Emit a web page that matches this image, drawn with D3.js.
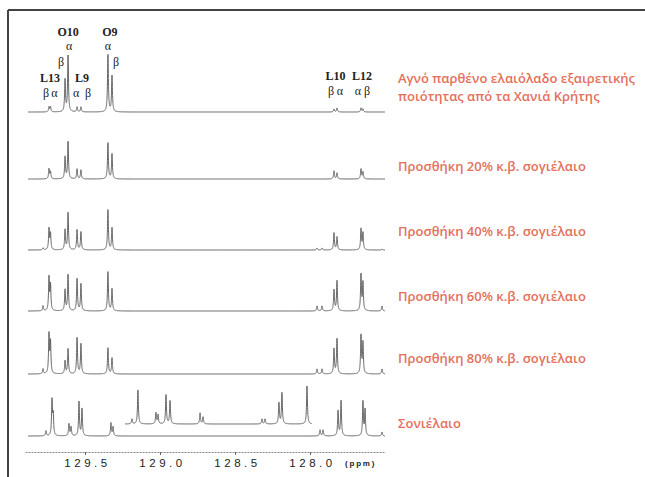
<!DOCTYPE html>
<html>
<head>
<meta charset="utf-8">
<script src="https://cdn.jsdelivr.net/npm/d3@7"></script>
<style>
  body { margin: 0; background: #fff; }
  svg { display: block; }
</style>
</head>
<body>
<svg id="chart" width="645" height="477"></svg>
<script>
// peak positions (ppm) shared by the olive oil and blend spectra
const blendPpm = [129.78, 129.74, 129.73, 129.633, 129.613, 129.553, 129.527, 129.347, 129.32, 127.953, 127.92, 127.84, 127.82, 127.66, 127.647, 127.52]
// peak intensities for each spectrum (same order as blendPpm)
const pureOil = [0, 5, 5, 32, 56, 5, 5, 57, 36, 0, 0, 3, 4, 4, 3, 0]
const blend20 = [0, 10, 7, 22, 37, 10, 9, 36, 25, 0, 0, 8, 6, 10, 7, 0]
const blend40 = [2, 21, 16, 20, 37, 20, 18, 40, 22, 2, 2, 17, 13, 21, 17, 1]
const blend60 = [5, 33, 25, 21, 36, 32, 27, 39, 22, 5, 5, 21, 30, 36, 28, 5]
const blend80 = [5, 39, 31, 13, 25, 36, 30, 26, 16, 5, 5, 25, 35, 38, 31, 5]

// sunflower oil spectrum
const sunPpm = [129.76, 129.72, 129.712, 129.607, 129.593, 129.54, 129.52, 129.327, 129.313, 127.933, 127.913, 127.813, 127.793, 127.647, 127.633, 127.52]
const sunInt = [5, 35, 20, 12, 9, 34, 27, 13, 9, 6, 6, 25, 35, 34, 26, 4]
// expanded region drawn above the sunflower trace
const insetRange = [129.233, 127.987]
const insetPpm = [129.187, 129.147, 129.027, 129.013, 128.96, 128.933, 128.733, 128.713, 128.32, 128.30, 128.207, 128.187, 128.02]
const insetInt = [5, 34, 11, 9, 29, 23, 11, 7, 5, 5, 21, 31, 38]

const labels = [
  ["Αγνό παρθένο ελαιόλαδο εξαιρετικής", "ποιότητας από τα Χανιά Κρήτης"],
  ["Προσθήκη 20% κ.β. σογιέλαιο"],
  ["Προσθήκη 40% κ.β. σογιέλαιο"],
  ["Προσθήκη 60% κ.β. σογιέλαιο"],
  ["Προσθήκη 80% κ.β. σογιέλαιο"],
  ["Σονιέλαιο"]
]
const tickPpm = [129.5, 129.0, 128.5, 128.0]

const svg = d3.select('#chart')

// frame
svg.append('line').attr('x1', 8).attr('x2', 645).attr('y1', 10).attr('y2', 10)
  .attr('stroke', '#444').attr('stroke-width', 2)
svg.append('line').attr('x1', 8).attr('x2', 8).attr('y1', 10).attr('y2', 477)
  .attr('stroke', '#444').attr('stroke-width', 2)

const x = d3.scaleLinear().domain([129.9, 127.5]).range([25, 385])
const y = d3.scaleLinear().domain([0, 60]).range([0, -60])

// lorentzian line shape
const hw = 0.0035
function shape(ppms, ints, lo, hi) {
  const pts = []
  for (let p = lo; p >= hi; p -= 0.0005) {
    let s = 0
    for (let i = 0; i < ppms.length; i++) {
      const u = (p - ppms[i]) / hw
      s += ints[i] / (1 + u * u)
    }
    pts.push([p, s])
  }
  return pts
}

const line = d3.line().x(d => x(d[0])).y(d => y(d[1]))

const spectra = [pureOil, blend20, blend40, blend60, blend80]
const baselines = [112, 179, 250, 311, 374, 436]
const labelY = [83, 171, 236, 301, 363, 428]

spectra.forEach((ints, i) => {
  svg.append('path')
    .attr('d', line(shape(blendPpm, ints, 129.88, 127.5)))
    .attr('transform', `translate(0,${baselines[i]})`)
    .attr('fill', 'none')
    .attr('stroke', '#555')
    .attr('stroke-width', 0.9)
})

svg.append('path')
  .attr('d', line(shape(sunPpm, sunInt, 129.88, 127.5)))
  .attr('transform', `translate(0,${baselines[5]})`)
  .attr('fill', 'none').attr('stroke', '#555').attr('stroke-width', 0.9)

svg.append('path')
  .attr('d', line(shape(insetPpm, insetInt, insetRange[0], insetRange[1])))
  .attr('transform', `translate(0,${baselines[5] - 12})`)
  .attr('fill', 'none').attr('stroke', '#555').attr('stroke-width', 0.9)

// labels for each spectrum
labels.forEach((lines, i) => {
  const t = svg.append('text')
    .attr('x', 398).attr('y', labelY[i])
    .attr('fill', '#e4705c')
    .style('font-family', '"Open Sans", sans-serif')
    .style('font-weight', 600)
    .style('font-size', '13px')
  lines.forEach((s, j) => {
    t.append('tspan').attr('x', 398).attr('dy', j === 0 ? 0 : 18).text(s)
  })
})

// axis
const xaxis = d3.axisBottom(x)
  .tickValues(tickPpm)
  .tickFormat(d3.format('.1f'))
  .tickSize(3)
  .tickSizeOuter(0)
  .tickPadding(4)
const ax = svg.append('g')
  .attr('transform', 'translate(0,452)')
  .call(xaxis)
ax.select('.domain').attr('stroke', '#888').attr('stroke-dasharray', '2,1')
ax.selectAll('.tick line').attr('stroke', '#666')
ax.selectAll('.tick text')
  .attr('fill', '#222')
  .attr('dx', '2px')
  .style('font-family', '"Liberation Sans", sans-serif')
  .style('font-size', '11.5px')
  .style('letter-spacing', '3.5px')
svg.append('text')
  .attr('x', 345).attr('y', 466)
  .attr('fill', '#222')
  .style('font-family', '"Liberation Sans", sans-serif')
  .style('font-size', '8px')
  .style('font-weight', 700)
  .style('letter-spacing', '1.8px')
  .text('(ppm)')

// peak assignments on the top spectrum
const serif = '"Liberation Serif", serif'
const notes = [
  { t: 'O10', p: 129.613, dx: 0, y: 36, bold: true },
  { t: 'α', p: 129.613, dx: 1, y: 50 },
  { t: 'β', p: 129.633, dx: -4, y: 66 },
  { t: 'O9', p: 129.347, dx: 2, y: 36, bold: true },
  { t: 'α', p: 129.347, dx: 0, y: 50 },
  { t: 'β', p: 129.32, dx: 4, y: 66 },
  { t: 'L13', p: 129.733, dx: 0, y: 82, bold: true },
  { t: 'β', p: 129.74, dx: -3, y: 97 },
  { t: 'α', p: 129.73, dx: 4, y: 97 },
  { t: 'L9', p: 129.54, dx: 3, y: 82, bold: true },
  { t: 'α', p: 129.553, dx: -1, y: 97 },
  { t: 'β', p: 129.527, dx: 7, y: 97 },
  { t: 'L10', p: 127.83, dx: 0, y: 80, bold: true },
  { t: 'β', p: 127.84, dx: -3, y: 95 },
  { t: 'α', p: 127.82, dx: 3, y: 95 },
  { t: 'L12', p: 127.653, dx: 0, y: 80, bold: true },
  { t: 'α', p: 127.66, dx: -3, y: 95 },
  { t: 'β', p: 127.647, dx: 4, y: 95 }
]
svg.selectAll('text.note')
  .data(notes)
  .enter()
  .append('text')
    .attr('class', 'note')
    .attr('x', d => x(d.p) + d.dx)
    .attr('y', d => d.y)
    .attr('text-anchor', 'middle')
    .attr('fill', '#222')
    .style('font-family', serif)
    .style('font-weight', d => d.bold ? 700 : 400)
    .style('font-size', d => d.bold ? '12px' : '12px')
    .text(d => d.t)
</script>
</body>
</html>
